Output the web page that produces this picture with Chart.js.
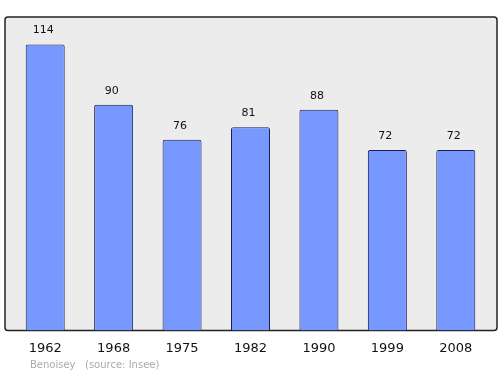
<!DOCTYPE html>
<html>
<head>
<meta charset="utf-8">
<script src="https://cdn.jsdelivr.net/npm/chart.js@4/dist/chart.umd.min.js"></script>
<style>
  html, body { margin: 0; padding: 0; background: #fff; }
  #wrap { width: 500px; height: 374px; }
</style>
</head>
<body>
<div id="wrap"><canvas id="pop"></canvas></div>
<script>
var years = ['1962', '1968', '1975', '1982', '1990', '1999', '2008'];
var population = [114, 90, 76, 81, 88, 72, 72];
var commune = 'Benoisey';
var source = '(source: Insee)';

// grey frame behind the bars, a bit wider than the chart area
var framePlugin = {
  id: 'frame',
  beforeDatasetsDraw: function(chart) {
    var a = chart.chartArea, ctx = chart.ctx;
    ctx.save();
    ctx.beginPath();
    ctx.roundRect(a.left - 6, a.top, a.right - a.left + 13, a.bottom - a.top, 3);
    ctx.fillStyle = '#ececec';
    ctx.fill();
    ctx.lineWidth = 1.5;
    ctx.strokeStyle = '#222';
    ctx.stroke();
    ctx.restore();
  },
  afterDatasetsDraw: function(chart) {
    var ctx = chart.ctx;
    var meta = chart.getDatasetMeta(0);
    ctx.save();
    ctx.font = '11px "DejaVu Sans", sans-serif';
    ctx.fillStyle = '#111';
    ctx.textAlign = 'center';
    ctx.textBaseline = 'middle';
    meta.data.forEach(function(bar, i) {
      ctx.fillText(population[i], bar.x - 2, bar.y - 14);
    });
    ctx.font = '10px "DejaVu Sans", sans-serif';
    ctx.fillStyle = '#aaa';
    ctx.textAlign = 'left';
    ctx.fillText(commune, 30, 365);
    ctx.fillText(source, 85, 365);
    ctx.restore();
  }
};

new Chart(document.getElementById('pop').getContext('2d'), {
  type: 'bar',
  data: {
    labels: years,
    datasets: [{
      data: population,
      backgroundColor: '#7799ff',
      borderColor: '#1c1c50',
      borderWidth: 1,
      borderRadius: 2,
      borderSkipped: 'bottom',
      categoryPercentage: 1,
      barPercentage: 0.57
    }]
  },
  options: {
    responsive: true,
    maintainAspectRatio: false,
    animation: false,
    layout: { padding: { top: 17, left: 11, right: 10, bottom: 8 } },
    plugins: { legend: { display: false }, tooltip: { enabled: false } },
    scales: {
      x: {
        grid: { display: false, drawTicks: false },
        border: { display: false },
        ticks: { color: '#111', padding: 10, font: { size: 13, family: '"DejaVu Sans", sans-serif' } }
      },
      y: {
        display: false,
        min: 0,
        max: 125
      }
    }
  },
  plugins: [framePlugin]
});
</script>
</body>
</html>
